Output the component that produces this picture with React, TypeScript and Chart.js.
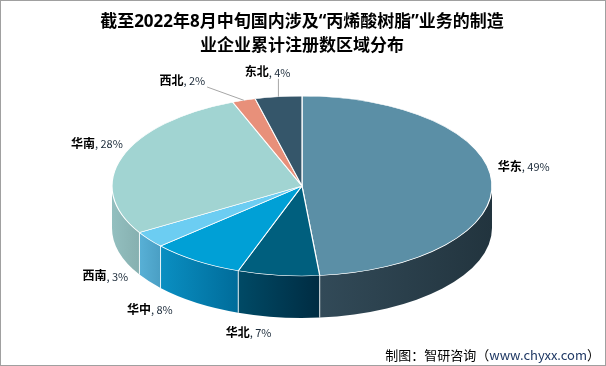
import React, { useEffect, useRef } from "react";
import { Chart, registerables } from "chart.js";

Chart.register(...registerables);

const TITLE_LINES = ["截至2022年8月中旬国内涉及“丙烯酸树脂”业务的制造", "业企业累计注册数区域分布"];
const REGIONS = ["华东", "华北", "华中", "西南", "华南", "西北", "东北"];
const SHARES = [49, 7, 8, 3, 28, 2, 4];
const SOURCE_PREFIX = "制图：智研咨询（";
const SOURCE_URL = "www.chyxx.com";
const SOURCE_SUFFIX = "）";

const TOP_COLORS = ["#5b8fa6", "#005f7e", "#00a0d6", "#6ccdf2", "#a1d4d2", "#e8907a", "#35566a"];
const SIDE_COLORS = [
  ["#324a58", "#22343e"],
  ["#004a66", "#002c42"],
  ["#0a8fc2", "#006c9a"],
  ["#58b0d6", "#4a9fc4"],
  ["#93bfbf", "#86b0b0"],
  ["#c07060", "#a86050"],
  ["#2a4352", "#22343e"],
];
const LABEL_SHIFT = [[17, -15], [-28, 0], [-38, -6], [-32, -15], [-11, -9], [-57, -6], [-9, -10]];

const FONT = "'Noto Sans CJK SC', 'Noto Sans', sans-serif";
const TITLE_FONT = "'Noto Sans', 'Noto Sans CJK SC', sans-serif";
const TILT = 90 / 190;
const DEPTH = 42;
const RADIUS = 190;

const pie3d = {
  id: "pie3d",
  beforeDatasetsDraw(chart: any) {
    const ctx = chart.ctx;
    const arcs = chart.getDatasetMeta(0).data;
    if (!arcs.length) return;
    const cx = arcs[0].x, cy = arcs[0].y;
    const rx = arcs[0].outerRadius, ry = rx * TILT;
    ctx.save();
    arcs.forEach((arc: any, i: number) => {
      const s = Math.max(arc.startAngle, 0);
      const e = Math.min(arc.endAngle, Math.PI);
      if (e <= s) return;
      const x1 = cx + rx * Math.cos(s), x2 = cx + rx * Math.cos(e);
      const g = ctx.createLinearGradient(Math.min(x1, x2), 0, Math.max(x1, x2), 0);
      g.addColorStop(0, SIDE_COLORS[i][0]);
      g.addColorStop(1, SIDE_COLORS[i][1]);
      ctx.beginPath();
      ctx.ellipse(cx, cy, rx, ry, 0, s, e, false);
      ctx.ellipse(cx, cy + DEPTH, rx, ry, 0, e, s, true);
      ctx.closePath();
      ctx.fillStyle = g;
      ctx.fill();
    });
    ctx.strokeStyle = "rgba(255,255,255,0.85)";
    ctx.lineWidth = 1;
    arcs.forEach((arc: any) => {
      const a = ((arc.startAngle % (2 * Math.PI)) + 2 * Math.PI) % (2 * Math.PI);
      if (a > 0.01 && a < Math.PI - 0.01) {
        const x = cx + rx * Math.cos(a), y = cy + ry * Math.sin(a);
        ctx.beginPath();
        ctx.moveTo(x, y);
        ctx.lineTo(x, y + DEPTH);
        ctx.stroke();
      }
    });
    ctx.restore();
    ctx.save();
    ctx.translate(cx, cy);
    ctx.scale(1, TILT);
    ctx.translate(-cx, -cy);
  },
  afterDatasetsDraw(chart: any) {
    chart.ctx.restore();
  },
  afterDraw(chart: any) {
    const ctx = chart.ctx;
    const arcs = chart.getDatasetMeta(0).data;
    ctx.save();
    if (arcs.length) {
      const cx = arcs[0].x, cy = arcs[0].y;
      const rx = arcs[0].outerRadius, ry = rx * TILT;
      arcs.forEach((arc: any, i: number) => {
        const mid = (arc.startAngle + arc.endAngle) / 2;
        const c = Math.cos(mid), s = Math.sin(mid);
        const ax = cx + (rx + 15) * c + LABEL_SHIFT[i][0];
        const ay = cy + (ry + 15) * s + (s > 0 ? DEPTH : 0) + LABEL_SHIFT[i][1];
        const name = REGIONS[i];
        const val = ", " + SHARES[i] + "%";
        ctx.font = `bold 12px ${FONT}`;
        const w1 = ctx.measureText(name).width;
        ctx.font = `11px ${FONT}`;
        const w2 = ctx.measureText(val).width;
        const left = ax - (w1 + w2) / 2;
        ctx.textBaseline = "middle";
        ctx.textAlign = "left";
        ctx.font = `bold 12px ${FONT}`;
        ctx.fillStyle = "#000000";
        ctx.fillText(name, left, ay);
        ctx.font = `11px ${FONT}`;
        ctx.fillStyle = "#1c2b3a";
        ctx.fillText(val, left + w1, ay + 1);
        if (s < 0) {
          const ex = cx + rx * c, ey = cy + ry * s;
          const bx0 = left - 2, bx1 = left + w1 + w2 + 2, by0 = ay - 7, by1 = ay + 7;
          const px = Math.min(Math.max(ex, bx0), bx1);
          const py = Math.min(Math.max(ey, by0), by1);
          if (Math.hypot(ex - px, ey - py) > 15) {
            ctx.strokeStyle = "#a6a6a6";
            ctx.lineWidth = 1;
            ctx.beginPath();
            ctx.moveTo(px, py);
            ctx.lineTo(ex, ey);
            ctx.stroke();
          }
        }
      });
    }
    // source
    ctx.textBaseline = "middle";
    ctx.textAlign = "left";
    ctx.font = `13px ${FONT}`;
    const wp = ctx.measureText(SOURCE_PREFIX).width;
    const wu = ctx.measureText(SOURCE_URL).width;
    const ws = ctx.measureText(SOURCE_SUFFIX).width;
    let x = chart.width - 6 - (wp + wu + ws);
    const y = chart.height - 11;
    ctx.fillStyle = "#000000";
    ctx.fillText(SOURCE_PREFIX, x, y);
    x += wp;
    ctx.fillStyle = "#1f3864";
    ctx.fillText(SOURCE_URL, x, y);
    x += wu;
    ctx.fillStyle = "#000000";
    ctx.fillText(SOURCE_SUFFIX, x, y);
    // frame
    ctx.strokeStyle = "#a0a0a0";
    ctx.lineWidth = 1;
    ctx.strokeRect(0.5, 0.5, chart.width - 1, chart.height - 1);
    ctx.restore();
  },
};

export default function App() {
  const ref = useRef<HTMLCanvasElement>(null);
  useEffect(() => {
    if (!ref.current) return;
    const chart = new Chart(ref.current, {
      type: "pie",
      data: {
        labels: REGIONS,
        datasets: [
          {
            data: SHARES,
            backgroundColor: TOP_COLORS,
            borderColor: "#ffffff",
            borderWidth: 1.2,
            radius: RADIUS,
            clip: false,
          } as any,
        ],
      },
      options: {
        responsive: false,
        animation: false,
        devicePixelRatio: 1,
        events: [],
        layout: { padding: { left: 0, right: 2, top: 0, bottom: 52 } },
        plugins: {
          legend: { display: false },
          tooltip: { enabled: false },
          title: {
            display: true,
            text: TITLE_LINES,
            color: "#000000",
            font: { family: TITLE_FONT, size: 17, weight: "bold", lineHeight: 1.41 },
            padding: { top: 10, bottom: 0 },
          },
        },
      } as any,
      plugins: [pie3d],
    });
    return () => chart.destroy();
  }, []);
  return (
    <div style={{ position: "absolute", left: 0, top: 0, width: 606, height: 366, background: "#ffffff" }}>
      <canvas ref={ref} width={606} height={366} style={{ display: "block", width: 606, height: 366 }} />
    </div>
  );
}
